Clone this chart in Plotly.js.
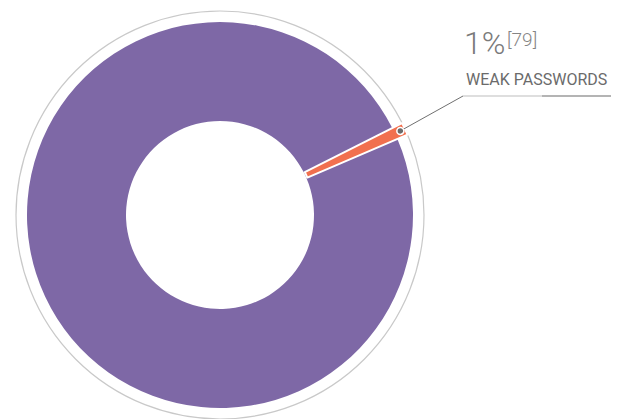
<!DOCTYPE html>
<html>
<head>
<meta charset="utf-8">
<script src="https://cdn.plot.ly/plotly-3.0.1.min.js"></script>
<style>
  html, body { margin: 0; padding: 0; background: #ffffff; }
  #chart { width: 624px; height: 419px; }
</style>
</head>
<body>
<div id="chart"></div>
<script>
// ---- data ----
const categories = ["WEAK PASSWORDS", "OTHER"];
const values = [1, 99];
const percentLabel = "1%";
const referenceLabel = "[79]";
const highlightLabel = "WEAK PASSWORDS";

// ---- styling ----
const W = 624, H = 419;
const purple = "#7e68a6";
const orange = "#f1704f";
const cx = 220, cy = 215;          // pie centre in pixels
const rMain = 193, holeMain = 94;  // purple ring
const rOuter = 204;                // orange wedge & outer grey ring
const midAngle = 65;               // slice centre, degrees clockwise from 12 o'clock

function dom(r) {
  return {
    x: [(cx - r) / W, (cx + r) / W],
    y: [Math.max(0, (H - cy - r) / H), Math.min(1, (H - cy + r) / H)]
  };
}

const total = values.reduce((a, b) => a + b, 0);
const rotation = midAngle - 360 * values[0] / total / 2;

const traces = [
  { // outer grey ring
    type: "pie", values: [total], labels: ["ring"], sort: false,
    domain: dom(rOuter), textinfo: "none", hoverinfo: "skip", showlegend: false,
    marker: { colors: ["rgba(0,0,0,0)"], line: { color: "#c9c9c9", width: 1.2 } }
  },
  { // purple donut
    type: "pie", values: values, labels: categories, sort: false,
    direction: "clockwise", rotation: rotation,
    domain: dom(rMain), hole: holeMain / rMain,
    textinfo: "none", hoverinfo: "skip", showlegend: false,
    marker: { colors: [purple, purple], line: { width: 0 } }
  },
  { // highlighted orange wedge
    type: "pie", values: values, labels: categories, sort: false,
    direction: "clockwise", rotation: rotation,
    domain: dom(rOuter), hole: 95 / rOuter,
    textinfo: "none", hoverinfo: "skip", showlegend: false,
    marker: { colors: [orange, "rgba(0,0,0,0)"],
              line: { color: ["#ffffff", "rgba(0,0,0,0)"], width: [2, 0] } }
  }
];

// anchor dot on the wedge
const a = midAngle * Math.PI / 180;
const dotR = 199;
const dx = cx + dotR * Math.sin(a), dy = cy - dotR * Math.cos(a);
const px = v => v / W, py = v => 1 - v / H;
const elbowX = 463, lineY = 96;

const shapes = [
  { type: "line", xref: "paper", yref: "paper", x0: px(dx), y0: py(dy), x1: px(elbowX), y1: py(lineY),
    line: { color: "#707070", width: 1 } },
  { type: "line", xref: "paper", yref: "paper", x0: px(elbowX), y0: py(lineY), x1: px(542), y1: py(lineY),
    line: { color: "#bdbdbd", width: 1.2 } },
  { type: "line", xref: "paper", yref: "paper", x0: px(542), y0: py(lineY), x1: px(611), y1: py(lineY),
    line: { color: "#6a6a6a", width: 1.2 } },
  { type: "circle", xref: "paper", yref: "paper", x0: px(dx - 3.5), x1: px(dx + 3.5), y0: py(dy + 3.5), y1: py(dy - 3.5),
    fillcolor: "#6a6a6a", line: { color: "#ffffff", width: 1.5 } }
];

const annotations = [
  { xref: "paper", yref: "paper", x: px(462), y: py(43), xanchor: "left", yanchor: "middle",
    text: percentLabel, showarrow: false,
    font: { family: "Roboto, 'Open Sans', sans-serif", size: 32, color: "#7a7a7a", weight: 300 } },
  { xref: "paper", yref: "paper", x: px(505), y: py(39), xanchor: "left", yanchor: "middle",
    text: referenceLabel, showarrow: false,
    font: { family: "Roboto, 'Open Sans', sans-serif", size: 19, color: "#858585", weight: 300 } },
  { xref: "paper", yref: "paper", x: px(464), y: py(79), xanchor: "left", yanchor: "middle",
    text: highlightLabel, showarrow: false,
    font: { family: "Roboto, 'Open Sans', sans-serif", size: 16, color: "#6b6b6b", weight: 400 } }
];

const layout = {
  width: W, height: H,
  margin: { l: 0, r: 0, t: 0, b: 0, pad: 0 },
  paper_bgcolor: "#ffffff", plot_bgcolor: "#ffffff",
  showlegend: false,
  shapes: shapes,
  annotations: annotations
};

Plotly.newPlot("chart", traces, layout, { displayModeBar: false, staticPlot: true });
</script>
</body>
</html>
